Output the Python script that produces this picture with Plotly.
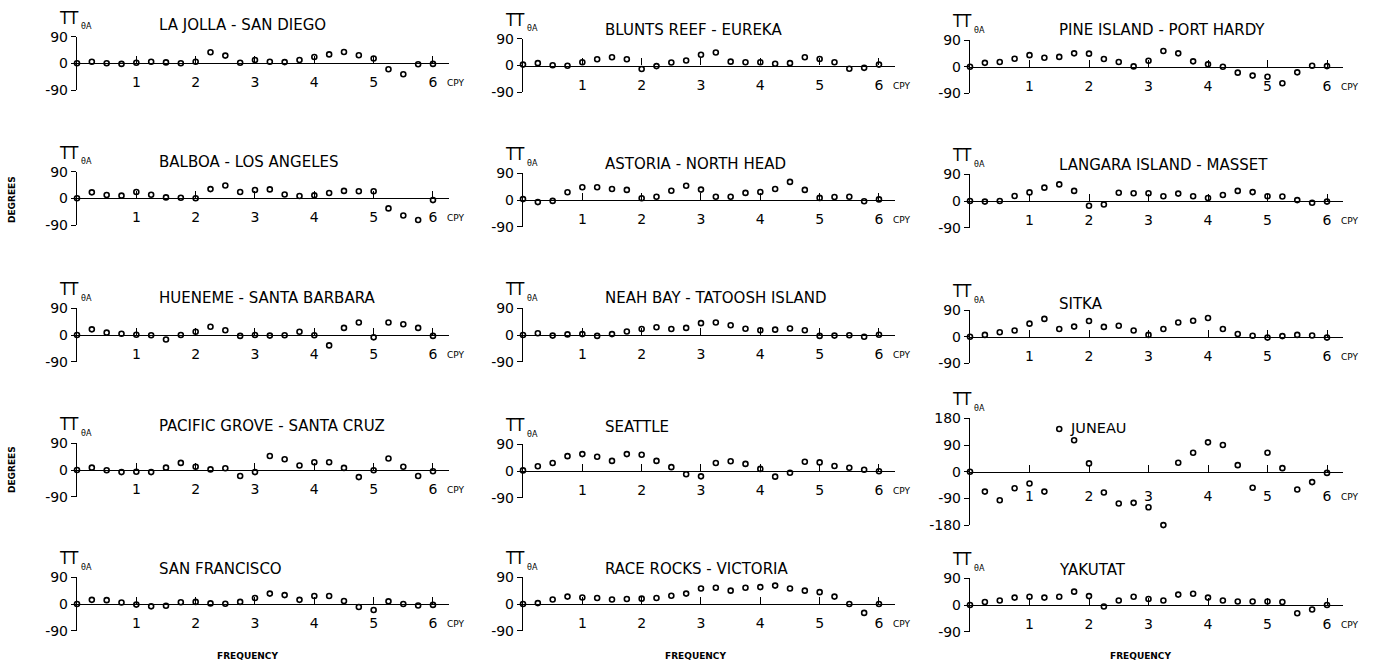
import plotly.graph_objects as go

FREQ = [i * 0.25 for i in range(25)]

NAMES = [
    "LA JOLLA - SAN DIEGO", "BALBOA - LOS ANGELES", "HUENEME - SANTA BARBARA",
    "PACIFIC GROVE - SANTA CRUZ", "SAN FRANCISCO",
    "BLUNTS REEF - EUREKA", "ASTORIA - NORTH HEAD", "NEAH BAY - TATOOSH ISLAND",
    "SEATTLE", "RACE ROCKS - VICTORIA",
    "PINE ISLAND - PORT HARDY", "LANGARA ISLAND - MASSET", "SITKA", "JUNEAU", "YAKUTAT",
]

la_jolla = [0, 5, 0, -2, 2, 5, 3, 0, 5, 37, 26, 2, 11, 5, 4, 11, 21, 30, 38, 27, 16, -20, -37, -3, -2]
balboa = [0, 20, 11, 9, 21, 12, 3, 2, 0, 31, 43, 21, 28, 30, 13, 8, 10, 18, 25, 24, 24, -34, -58, -73, -6]
hueneme = [0, 19, 8, 4, 1, -1, -15, 0, 11, 28, 16, -3, 0, -2, -1, 11, -1, -35, 24, 42, -8, 42, 36, 24, -3]
pacific_grove = [0, 8, -1, -7, -6, -7, 8, 24, 11, 2, 6, -20, -7, 47, 36, 15, 26, 26, 7, -24, -1, 39, 11, -20, -4]
san_francisco = [0, 14, 13, 5, -2, -8, -6, 6, 7, 2, 1, 7, 20, 35, 30, 14, 27, 27, 10, -10, -20, 9, 0, -5, -3]

blunts_reef = [3, 8, 1, -1, 11, 21, 28, 21, -12, -2, 10, 17, 36, 44, 13, 11, 11, 6, 8, 28, 22, 11, -11, -8, 3]
astoria = [3, -7, -3, 26, 43, 43, 37, 34, 6, 11, 31, 48, 35, 11, 11, 24, 27, 37, 61, 34, 7, 10, 11, -4, 2]
neah_bay = [0, 6, -2, 2, 3, -3, 3, 12, 20, 26, 20, 24, 40, 42, 33, 21, 16, 18, 22, 16, -3, -2, -1, -6, 1]
seattle = [2, 16, 27, 50, 57, 48, 34, 57, 55, 34, 13, -11, -18, 27, 33, 24, 7, -19, -6, 31, 29, 17, 11, 4, -1]
race_rocks = [0, 3, 15, 25, 22, 20, 15, 17, 18, 20, 28, 35, 52, 55, 45, 55, 57, 62, 52, 45, 40, 25, 0, -30, 0]

pine_island = [0, 13, 16, 27, 39, 30, 33, 45, 44, 26, 16, 1, 20, 53, 45, 18, 8, 0, -20, -30, -34, -56, -19, 3, 2]
langara = [0, -2, 0, 17, 29, 45, 56, 34, -16, -12, 28, 26, 26, 16, 25, 16, 10, 20, 34, 30, 16, 15, 3, -6, -2]
sitka = [0, 6, 15, 21, 44, 60, 26, 34, 53, 33, 37, 21, 6, 26, 48, 54, 63, 26, 9, 3, -3, 2, 6, 4, -3]
juneau = [0, -67, -96, -56, -40, -67, 144, 106, 28, -70, -107, -105, -120, -180, 30, 64, 99, 90, 22, -54, 64, 12, -60, -35, -4]
yakutat = [0, 10, 15, 25, 28, 25, 28, 45, 30, -5, 15, 28, 20, 15, 35, 38, 25, 15, 12, 12, 12, 10, -28, -15, 0]

SERIES = [la_jolla, balboa, hueneme, pacific_grove, san_francisco,
          blunts_reef, astoria, neah_bay, seattle, race_rocks,
          pine_island, langara, sitka, juneau, yakutat]

X_TICKS = [1, 2, 3, 4, 5, 6]
X_TICK_TEXT = ["1", "2", "3", "4", "5", "6"]

# ---------------- layout geometry (pixels) ----------------
W, H = 1375, 669
COL_X0 = [77, 523, 970]
COL_UPX = [59.33, 59.33, 59.5]
ZERO_Y = [
    [63.3, 198.3, 335, 470, 604],
    [65.5, 200, 335, 471, 604],
    [66.7, 201, 336.7, 471.7, 605],
]
TITLE_DY = [
    [-38, -36, -37, -44, -35],
    [-35, -36, -37, -44, -35],
    [-37, -36, -33, -44, -35],
]
HALF = 26.7  # pixels for 90 degrees
XMAX = 6.27

def px(x):
    return x / W

def py(y):
    return 1 - y / H

fig = go.Figure()
FONT = "DejaVu Sans"
annotations = []

def ann(x, y, text, size, xanchor="center", family=FONT, **kw):
    d = dict(x=px(x), y=py(y), xref="paper", yref="paper", text=text, xanchor=xanchor,
             yanchor="middle", showarrow=False, font=dict(family=family, size=size, color="black"))
    d.update(kw)
    annotations.append(d)

for idx, (name, vals) in enumerate(zip(NAMES, SERIES)):
    c, r = divmod(idx, 5)
    x0 = COL_X0[c]
    u = COL_UPX[c]
    z = ZERO_Y[c][r]
    big = name == "JUNEAU"
    ymax = 180 if big else 90
    hs = HALF * ymax / 90
    n = idx + 1
    xa = "xaxis" if n == 1 else f"xaxis{n}"
    ya = "yaxis" if n == 1 else f"yaxis{n}"
    xr = "x" if n == 1 else f"x{n}"
    yr = "y" if n == 1 else f"y{n}"
    fig.add_trace(go.Scatter(
        x=FREQ, y=vals, mode="markers", xaxis=xr, yaxis=yr, cliponaxis=False,
        marker=dict(symbol="circle-open", size=5, color="black", line=dict(width=1.6, color="black")),
        showlegend=False, hoverinfo="x+y",
    ))
    fig.layout[xa] = dict(
        domain=[px(x0), px(x0 + XMAX * u)], range=[0, XMAX], anchor="free",
        position=py(z), showline=True, linecolor="black", linewidth=1.4,
        ticks="inside", ticklen=7, tickwidth=1.4, tickcolor="black",
        tickvals=X_TICKS, ticktext=X_TICK_TEXT, showgrid=False, zeroline=False,
        tickfont=dict(family=FONT, size=14, color="black"), ticklabelstandoff=6 if not big else 11,
        automargin=False,
    )
    yt = [-ymax, -ymax / 2, 0, ymax / 2, ymax] if big else [-90, 0, 90]
    ytt = ["-180", "-90", "0", "90", "180"] if big else ["-90", "0", "90"]
    fig.layout[ya] = dict(
        domain=[py(z + hs), py(z - hs)], range=[-ymax, ymax], anchor=xr,
        showline=True, linecolor="black", linewidth=1.4, ticks="outside", ticklen=5,
        tickwidth=1.4, tickcolor="black", tickvals=yt, ticktext=ytt, showgrid=False,
        zeroline=False, tickfont=dict(family=FONT, size=14, color="black"), automargin=False,
    )
    # panel title
    if big:
        ann(x0 + 98, z + TITLE_DY[c][r], "JUNEAU", 14.5, xanchor="left")
    else:
        ann(x0 + (80 if c < 2 else 87), z + TITLE_DY[c][r], name, 15, xanchor="left")
    # TT theta-A label
    ann(x0 - 8, z - hs - 19, "TT", 17, family="Liberation Sans Narrow, DejaVu Sans Condensed")
    ann(x0 + 9, z - hs - 10, "θA", 8)
    # CPY
    ann(x0 + 6 * u + 12, z + (20 if not big else 25), "CPY", 9, xanchor="left")

for yy in [200, 470]:
    ann(12, yy, "<b>DEGREES</b>", 9, textangle=-90)
for xx in [247, 695, 1140]:
    ann(xx, 656, "<b>FREQUENCY</b>", 9)

fig.update_layout(
    width=W, height=H, margin=dict(l=0, r=0, t=0, b=0, autoexpand=False),
    paper_bgcolor="white", plot_bgcolor="white", annotations=annotations,
    font=dict(family=FONT, color="black"),
)
fig.write_html("out.html", config={"displayModeBar": False})
with open("out.html", "r", encoding="utf-8") as f:
    html = f.read()
html = html.replace("<head>", "<head><style>html,body{margin:0;padding:0;overflow:hidden;}</style>", 1)
with open("out.html", "w", encoding="utf-8") as f:
    f.write(html)
